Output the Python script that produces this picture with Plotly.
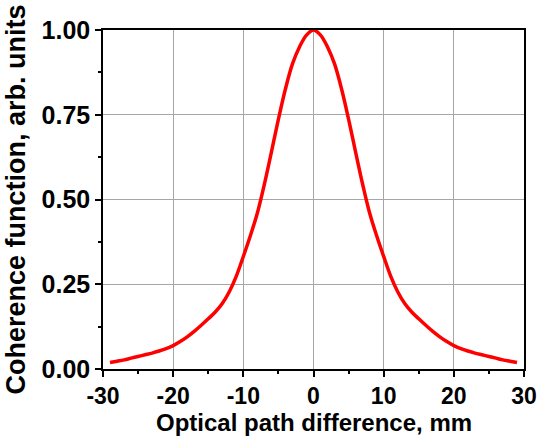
import plotly.graph_objects as go

# Optical path difference, mm
opd_mm = [-29, -28, -27, -26, -25, -24, -23, -22, -21, -20,
          -19, -18, -17, -16, -15, -14, -13, -12, -11, -10,
          -9, -8, -7, -6, -5, -4, -3, -2, -1, 0,
          1, 2, 3, 4, 5, 6, 7, 8, 9, 10,
          11, 12, 13, 14, 15, 16, 17, 18, 19, 20,
          21, 22, 23, 24, 25, 26, 27, 28, 29]
# Coherence function, arb. units
coherence = [0.019, 0.023, 0.027, 0.032, 0.037, 0.042, 0.047, 0.053, 0.060, 0.069,
             0.081, 0.095, 0.111, 0.129, 0.148, 0.168, 0.193, 0.228, 0.274, 0.332,
             0.393, 0.460, 0.545, 0.640, 0.737, 0.826, 0.900, 0.950, 0.985, 1.000,
             0.985, 0.950, 0.900, 0.826, 0.737, 0.640, 0.545, 0.460, 0.393, 0.332,
             0.274, 0.228, 0.193, 0.168, 0.148, 0.129, 0.111, 0.095, 0.081, 0.069,
             0.060, 0.053, 0.047, 0.042, 0.037, 0.032, 0.027, 0.023, 0.019]

x_ticks = [-30, -20, -10, 0, 10, 20, 30]
y_ticks = [0.0, 0.25, 0.5, 0.75, 1.0]
x_title = "Optical path difference, mm"
y_title = "Coherence function, arb. units"

fig = go.Figure()
fig.add_trace(go.Scatter(x=opd_mm, y=coherence, mode="lines",
                         line=dict(color="#ff0000", width=3.5, shape="spline", smoothing=1.0),
                         cliponaxis=False, showlegend=False))

font = "Liberation Sans, Arial, sans-serif"
fig.update_layout(
    width=542, height=437,
    margin=dict(l=103, r=18, t=30, b=68),
    paper_bgcolor="white", plot_bgcolor="white",
    font=dict(family=font, color="black"),
)
common = dict(
    showgrid=True, gridcolor="#a6a6a6", gridwidth=1,
    showline=True, linecolor="black", linewidth=1.5, mirror=True,
    ticks="outside", ticklen=6, tickwidth=1.5, tickcolor="black",
    zeroline=False, automargin=False,
)
fig.update_xaxes(
    range=[-30, 30], tickvals=x_ticks, ticktext=[str(v) for v in x_ticks],
    tickfont=dict(family=font, size=23, color="black", weight="bold"),
    minor=dict(ticks="outside", ticklen=3, dtick=5, tick0=0, tickcolor="black", tickwidth=1.5, showgrid=False),
    **common,
)
fig.update_yaxes(
    range=[0, 1], tickvals=y_ticks, tickformat=".2f",
    tickfont=dict(family=font, size=25, color="black", weight="bold"),
    minor=dict(ticks="outside", ticklen=3, dtick=0.125, tick0=0, tickcolor="black", tickwidth=1.5, showgrid=False),
    title=dict(text="<b>" + y_title + "</b>", font=dict(family=font, size=27, color="black"), standoff=8),
    **common,
)
fig.add_annotation(
    text="<b>" + x_title + "</b>", xref="paper", yref="paper", x=0.5, y=-0.115,
    xanchor="center", yanchor="top", showarrow=False, borderpad=0,
    font=dict(family=font, size=24, color="black"),
)
fig.write_html("out.html")
